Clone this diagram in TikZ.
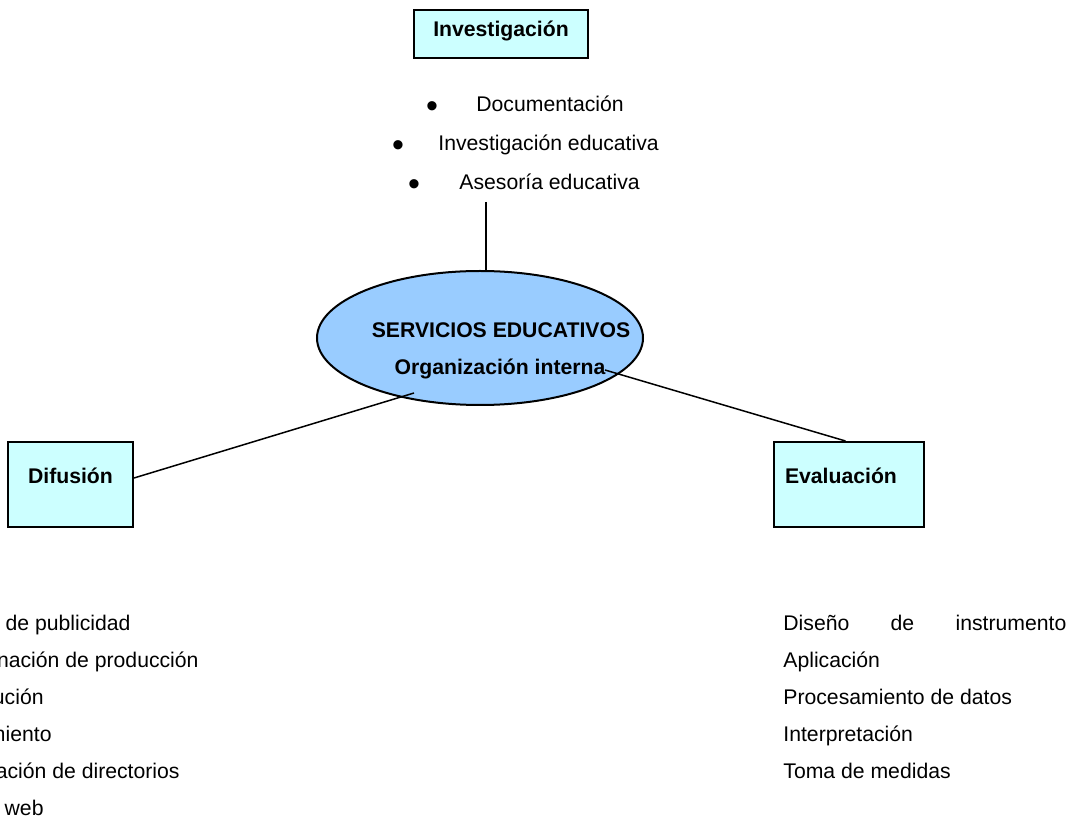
\documentclass[tikz,border=0pt]{standalone}
\usepackage{fontspec}
\setmainfont{Liberation Sans}
\usetikzlibrary{shapes.geometric}
\definecolor{boxcyan}{HTML}{CCFFFF}
\definecolor{hubblue}{HTML}{99CCFF}
\tikzset{
  area/.style={draw, line width=1pt, fill=boxcyan, inner sep=0pt,
    font=\fontsize{10.6}{12.7}\selectfont\bfseries},
  hub/.style={draw, ellipse, line width=1pt, fill=hubblue, inner sep=0pt,
    minimum width=163pt, minimum height=67pt},
  item/.style={inner sep=0pt, font=\fontsize{10.6}{12.7}\selectfont},
  bulmark/.style={inner sep=0pt, anchor=base, font=\fontsize{17}{20}\selectfont},
  hubtxt/.style={item, anchor=base, font=\fontsize{10.6}{12.7}\selectfont\bfseries},
  conn/.style={line width=0.75pt}
}
\begin{document}
\begin{tikzpicture}[x=0.5pt,y=-0.5pt]
\useasboundingbox (0,0) rectangle (1073,818);
\node [area, minimum width=87pt, minimum height=24pt, text height=7.5pt, text depth=4.5pt] (inv) at (501,34) {Investigación};
\foreach \txt/\xb/\xt/\yb [count=\i] in {Documentación/432/476/111.5, Investigación educativa/398/438/150.5, Asesoría educativa/414/459/189.5}{
  \node [bulmark] (bul\i) at (\xb,\yb+6) {•};
  \node [item, anchor=base west] (inv\i) at (\xt,\yb) {\txt};
}
\node [hub] (srv) at (480,338) {};
\node [hubtxt] (srv1) at (501,337.5) {SERVICIOS EDUCATIVOS};
\node [hubtxt] (srv2) at (500,374.5) {Organización interna};
\node [area, minimum width=62.5pt, minimum height=42.5pt, text height=5.5pt, text depth=6.25pt] (dif) at (70.5,484.5) {Difusión};
\node [area, align=left, text width=64pt, inner xsep=5.5pt, minimum height=42.5pt, text height=5.5pt, text depth=6.25pt] (eva) at (849,484.5) {Evaluación};
\coordinate (invtop) at (486,202);
\coordinate (srvL) at (414,393);
\coordinate (srvR) at (605,370);
\draw [conn] (invtop) -- (invtop |- srv.north);
\draw [conn] ([yshift=3.25pt]dif.east) -- (srvL);
\draw [conn] (srvR) -- ([xshift=-1.75pt]eva.north);
\foreach \txt/\xe/\yb [count=\i] in {Campaña de publicidad/131/630.5, Coordinación de producción/199/667.5, Distribución/44/704.5, Seguimiento/52/741.5, Actualización de directorios/180/778.5, Página web/44/815}
  \node [item, anchor=base east] (dif\i) at (\xe,\yb) {\txt};
\foreach \txt/\yb [count=\i] in {{\makebox[141.5pt][s]{Diseño de instrumento}}/630.5, Aplicación/667.5, Procesamiento de datos/704.5, Interpretación/741.5, Toma de medidas/778.5}
  \node [item, anchor=base west] (eva\i) at (783,\yb) {\txt};
\end{tikzpicture}
\end{document}
